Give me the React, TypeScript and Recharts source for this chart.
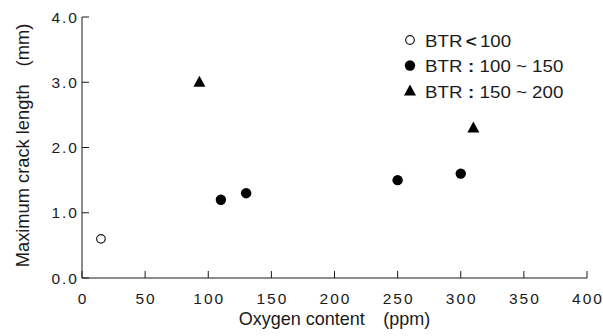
import React from 'react';
import { ScatterChart, Scatter, XAxis, YAxis, Legend } from 'recharts';

const oxygenTicks = [0, 50, 100, 150, 200, 250, 300, 350, 400];
const crackTicks = [0, 1, 2, 3, 4];

const lowOxygen = [15];
const lowCrack = [0.6];
const midOxygen = [110, 130, 250, 300];
const midCrack = [1.2, 1.3, 1.5, 1.6];
const highOxygen = [93, 310];
const highCrack = [3.0, 2.3];

const legendNames = ['BTR', 'BTR', 'BTR'];
const legendSeps = ['<', ':', ':'];
const legendRanges = ['100', '100 ~ 150', '150 ~ 200'];
const legendKinds = ['open', 'filled', 'triangle'];

const xTitle = ['Oxygen content', '(ppm)'];
const yTitle = ['Maximum crack length', '(mm)'];

const FONT = "'Liberation Sans', Arial, Helvetica, sans-serif";
const INK = '#1a1a1a';
const LS = 2;
const TFS = 15.5;

const lowData = lowOxygen.map((x, i) => ({ x, y: lowCrack[i] }));
const midData = midOxygen.map((x, i) => ({ x, y: midCrack[i] }));
const highData = highOxygen.map((x, i) => ({ x, y: highCrack[i] }));

const marker = (kind: string, cx: number, cy: number, key?: any) => {
  if (kind === 'open')
    return <circle key={key} cx={cx} cy={cy} r={4.3} fill="#fff" stroke={INK} strokeWidth={1.2} />;
  if (kind === 'filled') return <circle key={key} cx={cx} cy={cy} r={5.2} fill="#000" />;
  return (
    <polygon
      key={key}
      points={`${cx - 6},${cy + 4.5} ${cx + 6},${cy + 4.5} ${cx},${cy - 6.5}`}
      fill="#000"
    />
  );
};

const OpenShape = (p: any) => marker('open', p.cx, p.cy);
const FilledShape = (p: any) => marker('filled', p.cx, p.cy);
const TriShape = (p: any) => marker('triangle', p.cx, p.cy);

const BottomTick = (p: any) => (
  <g>
    <line x1={p.x} y1={p.y} x2={p.x} y2={p.y - 7} stroke={INK} strokeWidth={1} />
    <text
      x={p.x + LS / 2}
      y={p.y + 26}
      textAnchor="middle"
      fontSize={TFS}
      letterSpacing={LS}
      fontFamily={FONT}
      fill={INK}
    >
      {p.payload.value}
    </text>
  </g>
);

const TopTick = (p: any) => (
  <line x1={p.x} y1={p.y} x2={p.x} y2={p.y + 7} stroke={INK} strokeWidth={1} />
);

const LeftTick = (p: any) => (
  <g>
    <line x1={p.x} y1={p.y} x2={p.x + 7} y2={p.y} stroke={INK} strokeWidth={1} />
    <text
      x={p.x - 5 + LS}
      y={p.y + 5.6}
      textAnchor="end"
      fontSize={TFS}
      letterSpacing={LS}
      fontFamily={FONT}
      fill={INK}
    >
      {Number(p.payload.value).toFixed(1)}
    </text>
  </g>
);

const RightTick = (p: any) => (
  <line x1={p.x} y1={p.y} x2={p.x - 7} y2={p.y} stroke={INK} strokeWidth={1} />
);

const XTitle = (p: any) => {
  const vb = p.viewBox || {};
  const cx = vb.x + vb.width / 2;
  return (
    <text
      transform={`translate(${cx},${vb.y + 47}) scale(1.03,1)`}
      textAnchor="middle"
      fontSize={17.5}
      fontFamily={FONT}
      fill={INK}
    >
      <tspan>{xTitle[0]}</tspan>
      <tspan dx={18}>{xTitle[1]}</tspan>
    </text>
  );
};

const YTitle = (p: any) => {
  const vb = p.viewBox || {};
  const cy = vb.y + vb.height / 2 - 2;
  return (
    <text
      transform={`translate(29,${cy}) rotate(-90)`}
      textAnchor="middle"
      fontSize={18.3}
      fontFamily={FONT}
      fill={INK}
    >
      <tspan>{yTitle[0]}</tspan>
      <tspan dx={18}>{yTitle[1]}</tspan>
    </text>
  );
};

const LegendBox = () => (
  <svg width={603} height={336} style={{ position: 'absolute', left: 0, top: 0, overflow: 'visible' }}>
    {legendKinds.map((k, i) => {
      const cy = 40 + i * 25.5;
      return (
        <g key={k}>
          {marker(k, 410, cy)}
          <text
            transform={`translate(425,${cy + 6.5}) scale(1.1,1)`}
            fontSize={17}
            fontFamily={FONT}
            fill={INK}
          >
            <tspan>{legendNames[i]}</tspan>
            <tspan dx={i === 0 ? 3 : 5} fontWeight="bold">
              {legendSeps[i]}
            </tspan>
            <tspan dx={i === 0 ? 3 : 5}>{legendRanges[i]}</tspan>
          </text>
        </g>
      );
    })}
  </svg>
);

export default function App() {
  return (
    <div style={{ position: 'absolute', left: 0, top: 0, width: 603, height: 336, background: '#fff' }}>
      <ScatterChart
        width={603}
        height={336}
        margin={{ top: 17, right: 16, bottom: 0, left: 0 }}
      >
        <XAxis
          xAxisId="bottom"
          type="number"
          dataKey="x"
          orientation="bottom"
          domain={[0, 400]}
          ticks={oxygenTicks}
          interval={0}
          height={58}
          tickSize={0}
          tickMargin={0}
          tickLine={false}
          axisLine={{ stroke: INK, strokeWidth: 1 }}
          tick={BottomTick}
          label={{ content: XTitle }}
        />
        <XAxis
          xAxisId="top"
          type="number"
          dataKey="x"
          orientation="top"
          domain={[0, 400]}
          ticks={oxygenTicks}
          interval={0}
          height={0}
          tickSize={0}
          tickMargin={0}
          tickLine={false}
          axisLine={{ stroke: INK, strokeWidth: 1 }}
          tick={TopTick}
        />
        <YAxis
          yAxisId="left"
          type="number"
          dataKey="y"
          orientation="left"
          domain={[0, 4]}
          ticks={crackTicks}
          interval={0}
          width={82}
          tickSize={0}
          tickMargin={0}
          tickLine={false}
          axisLine={{ stroke: INK, strokeWidth: 1 }}
          tick={LeftTick}
          label={{ content: YTitle }}
        />
        <YAxis
          yAxisId="right"
          type="number"
          dataKey="y"
          orientation="right"
          domain={[0, 4]}
          ticks={crackTicks}
          interval={0}
          width={0}
          tickSize={0}
          tickMargin={0}
          tickLine={false}
          axisLine={{ stroke: INK, strokeWidth: 1 }}
          tick={RightTick}
        />
        <Scatter xAxisId="bottom" yAxisId="left" data={lowData} shape={OpenShape} isAnimationActive={false} />
        <Scatter xAxisId="bottom" yAxisId="left" data={midData} shape={FilledShape} isAnimationActive={false} />
        <Scatter xAxisId="bottom" yAxisId="left" data={highData} shape={TriShape} isAnimationActive={false} />
        <Legend
          content={LegendBox}
          wrapperStyle={{ position: 'absolute', left: 0, top: 0, width: 0, height: 0, overflow: 'visible', pointerEvents: 'none' }}
        />
      </ScatterChart>
    </div>
  );
}
